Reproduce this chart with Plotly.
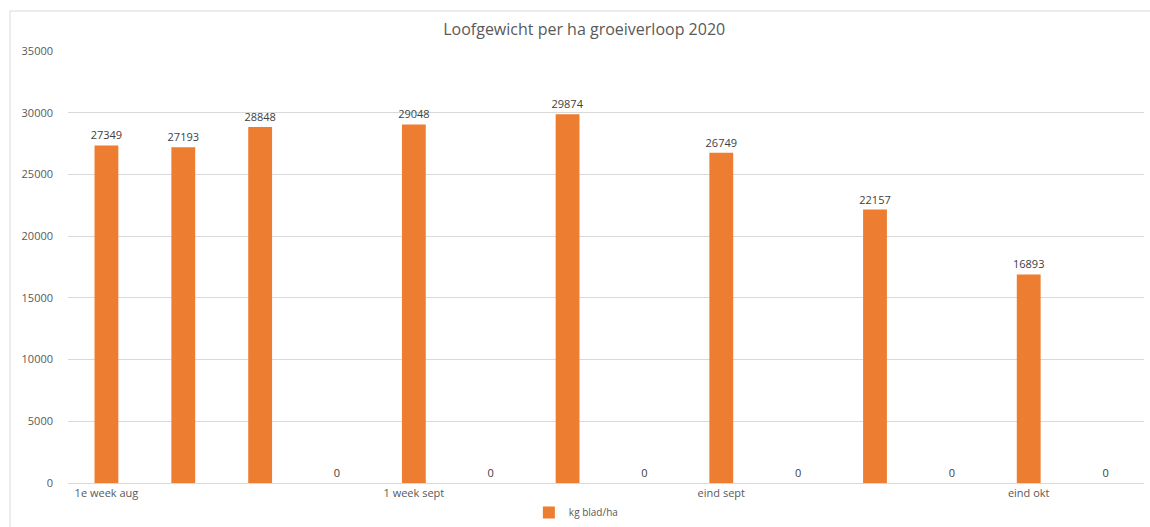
import plotly.graph_objects as go

positions = list(range(14))
values = [27349, 27193, 28848, 0, 29048, 0, 29874, 0, 26749, 0, 22157, 0, 16893, 0]
tick_positions = [0, 4, 8, 12]
tick_labels = ["1e week aug", "1 week sept", "eind sept", "eind okt"]
y_ticks = [0, 5000, 10000, 15000, 20000, 25000, 30000, 35000]
series_name = "kg blad/ha"
title = "Loofgewicht per ha groeiverloop 2020"

FONT = "Open Sans, Liberation Sans, sans-serif"
fig = go.Figure()
fig.add_trace(go.Bar(
    x=positions, y=values, name=series_name,
    marker=dict(color="#ED7D31", line=dict(width=0)),
    width=0.31,
    text=[str(v) for v in values], textposition="outside",
    textfont=dict(size=11, color="#404040", family=FONT),
    constraintext="none",
    cliponaxis=False,
))

fig.update_layout(
    width=1150, height=527,
    margin=dict(l=68, r=6, t=51, b=44, autoexpand=False),
    paper_bgcolor="white", plot_bgcolor="white",
    title=dict(text=title, x=0.508, xanchor="center", y=0.945, yanchor="middle",
               font=dict(size=16, color="#595959", family=FONT)),
    showlegend=True,
    legend=dict(orientation="h", x=0.472, xanchor="center",
                yref="container", y=0.0, yanchor="bottom",
                font=dict(size=10, color="#595959", family=FONT),
                itemwidth=30),
    bargap=0.69,
    xaxis=dict(range=[-0.5, 13.5], tickmode="array", tickvals=tick_positions,
               ticktext=tick_labels, showgrid=False, zeroline=False,
               tickfont=dict(size=11, color="#595959", family=FONT),
               showline=True, linecolor="#D9D9D9", linewidth=1, ticks=""),
    yaxis=dict(range=[0, 35000], tickmode="array", tickvals=y_ticks,
               ticktext=[str(v) for v in y_ticks],
               showgrid=True, gridcolor="#D9D9D9", gridwidth=1, zeroline=False,
               tickfont=dict(size=11, color="#595959", family=FONT),
               ticks="", ticklabelstandoff=14),
)
# outer chart border (Excel chart area)
fig.add_shape(type="rect", xref="paper", yref="paper",
              x0=(10 - 68) / 1076, x1=(1160 - 68) / 1076,
              y0=-0.2, y1=(483 - 11) / 432,
              line=dict(color="#D9D9D9", width=1), layer="below")

fig.write_html("out.html")
